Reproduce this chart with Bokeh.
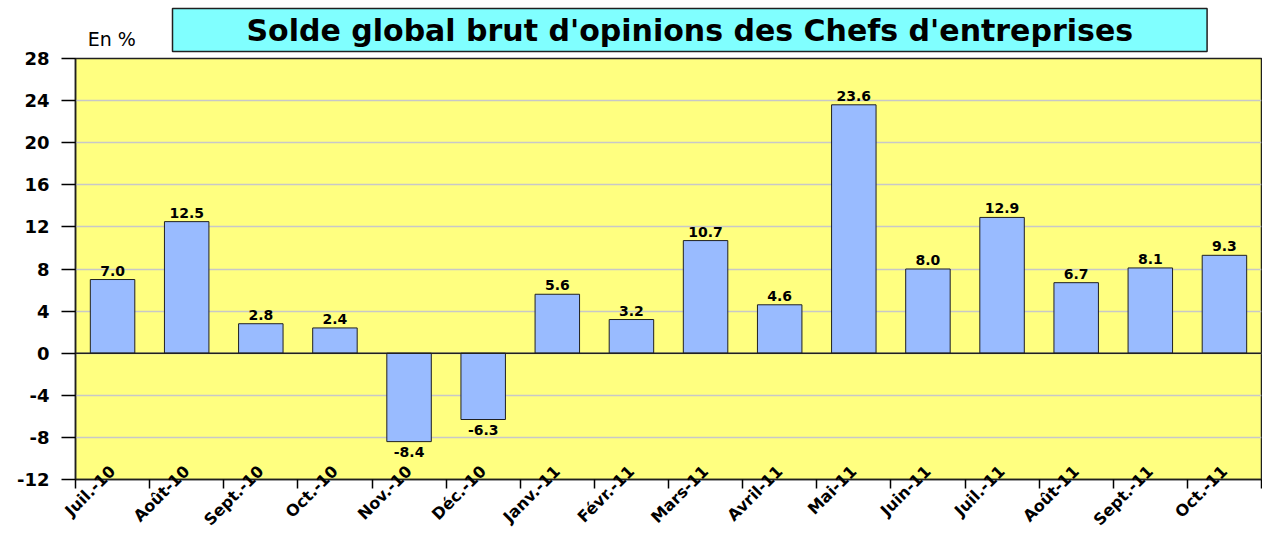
from math import pi
from bokeh.plotting import figure
from bokeh.models import Range1d, FixedTicker, Title, Span, ColumnDataSource, LinearAxis
from bokeh.core.properties import value
from bokeh.embed import file_html
from bokeh.resources import INLINE

months = ["Juil.-10", "Août-10", "Sept.-10", "Oct.-10", "Nov.-10", "Déc.-10",
          "Janv.-11", "Févr.-11", "Mars-11", "Avril-11", "Mai-11", "Juin-11",
          "Juil.-11", "Août-11", "Sept.-11", "Oct.-11"]
solde = [7.0, 12.5, 2.8, 2.4, -8.4, -6.3, 5.6, 3.2, 10.7, 4.6, 23.6, 8.0,
         12.9, 6.7, 8.1, 9.3]
y_ticks = [-12, -8, -4, 0, 4, 8, 12, 16, 20, 24, 28]
unit_text = "En %"

FONT = "DejaVu Sans"
centers = [i + 0.5 for i in range(len(months))]

title = Title(text="Solde global brut d'opinions des Chefs d'entreprises",
              align="left", offset=97, text_font=FONT, text_font_style="bold",
              text_font_size="30px", text_color="black",
              background_fill_color="#80FFFF", border_line_color="#202020",
              border_line_width=1.5,
              padding=dict(left=74, right=74, top=4, bottom=4), standoff=-54)

p = figure(width=1262, height=539, output_backend="svg", toolbar_location=None,
           x_range=Range1d(0, len(months)), y_range=Range1d(-12, 28),
           title=title, min_border_left=75, min_border_right=1,
           min_border_top=58, background_fill_color="#FFFF80",
           border_fill_color="white")
p.outline_line_color = "#202020"
p.outline_line_width = 1.5

p.vbar(x=centers, top=solde, width=0.6, bottom=0, fill_color="#99BBFF",
       line_color="#202020", line_width=1)

pos = ColumnDataSource(dict(x=[c for c, v in zip(centers, solde) if v >= 0],
                            y=[v for v in solde if v >= 0],
                            t=["%.1f" % v for v in solde if v >= 0]))
neg = ColumnDataSource(dict(x=[c for c, v in zip(centers, solde) if v < 0],
                            y=[v for v in solde if v < 0],
                            t=["%.1f" % v for v in solde if v < 0]))
p.text(x="x", y="y", text="t", source=pos, text_align="center",
       text_baseline="bottom", y_offset=-4, text_font=value(FONT),
       text_font_style="bold", text_font_size="14px", text_color="black")
p.text(x="x", y="y", text="t", source=neg, text_align="center",
       text_baseline="top", y_offset=5, text_font=value(FONT),
       text_font_style="bold", text_font_size="14px", text_color="black")

p.add_layout(Span(location=0, dimension="width", line_color="#202020", line_width=1.5))

p.xgrid.visible = False
p.ygrid.grid_line_color = "#C8C8C8"
p.ygrid.grid_line_width = 1.5

p.yaxis.ticker = FixedTicker(ticks=y_ticks)
p.yaxis.major_label_overrides = {t: str(t) for t in y_ticks}
p.yaxis.major_label_text_font = FONT
p.yaxis.major_label_text_font_style = "bold"
p.yaxis.major_label_text_font_size = "18px"
p.yaxis.major_label_text_color = "black"
p.yaxis.major_tick_out = 14
p.yaxis.major_tick_in = 0
p.yaxis.major_tick_line_width = 1.5
p.yaxis.minor_tick_line_color = None
p.yaxis.major_label_standoff = 12
p.yaxis.axis_line_color = "#202020"
p.yaxis.axis_line_width = 1.5

p.xaxis.ticker = FixedTicker(ticks=centers, minor_ticks=list(range(len(months) + 1)))
p.xaxis.major_label_overrides = {c: m for c, m in zip(centers, months)}
p.xaxis.major_label_orientation = pi / 4
p.xaxis.major_label_text_font = FONT
p.xaxis.major_label_text_font_style = "bold"
p.xaxis.major_label_text_font_size = "16px"
p.xaxis.major_label_text_color = "black"
p.xaxis.major_tick_line_color = None
p.xaxis.minor_tick_out = 9
p.xaxis.minor_tick_in = 0
p.xaxis.minor_tick_line_color = "black"
p.xaxis.minor_tick_line_width = 1.5
p.xaxis.major_label_standoff = -20
p.xaxis.axis_line_color = "#202020"
p.xaxis.axis_line_width = 1.5

# unit caption above the frame, as a label of a bare axis
unit_axis = LinearAxis(ticker=FixedTicker(ticks=[0.49]),
                       major_label_overrides={0.49: unit_text},
                       major_label_text_font=FONT, major_label_text_font_size="19px",
                       major_label_text_color="black", major_label_standoff=9,
                       major_tick_line_color=None, major_tick_out=0,
                       minor_tick_line_color=None, axis_line_color=None)
p.add_layout(unit_axis, "above")

open("out.html", "w").write(file_html(p, INLINE))
